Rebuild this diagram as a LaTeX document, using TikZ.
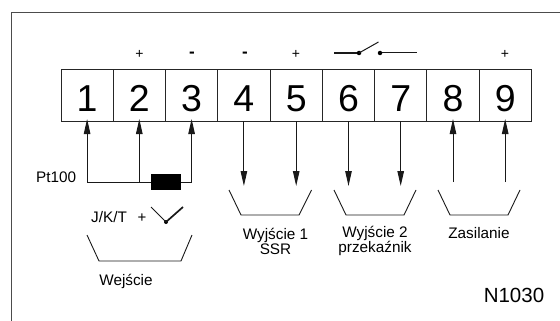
\documentclass[tikz,border=0pt]{standalone}
\usepackage{fontspec}
\setmainfont{Liberation Sans}
\usetikzlibrary{arrows.meta}
\tikzset{
  frameline/.style={draw=black!70,line width=1pt},
  term/.style={draw=black!85,line width=0.9pt,minimum width=52.2pt,minimum height=52pt,inner sep=0pt,outer sep=0pt,text height=32pt,text depth=0pt,font=\fontsize{37.5}{37.5}\selectfont},
  wire/.style={draw=black!90,line width=1pt},
  sig/.style={wire,-{Triangle[length=15pt,width=6.5pt]},shorten >=-2pt},
  tray/.style={draw=black!90,line width=0.9pt},
  lab/.style={inner sep=0pt,font=\fontsize{15.3}{15.3}\selectfont,align=center},
  sign/.style={inner sep=0pt,font=\fontsize{14}{14}\selectfont},
  pin/.style={circle,fill=black,inner sep=0pt,minimum size=4.5pt}
}
\begin{document}
\begin{tikzpicture}[x=1pt,y=-1pt]
\useasboundingbox (0,0) rectangle (560,321);
\draw[frameline] (11,321) -- (11,13) -- (560,13);
% terminals
\foreach \i/\x in {1/87.1,2/139.3,3/191.6,4/243.9,5/296.2,6/348.5,7/400.7,8/453,9/505.2}
  \node[term] (t\i) at (\x,95) {\i};
% signs
\node[sign] (p2) at (139.5,54) {+};
\node[sign] (p5) at (296,54) {+};
\node[sign] (p9) at (505,54) {+};
\node[sign,font=\bfseries\fontsize{17}{17}\selectfont] (m3) at (192,55) {-};
\node[sign,font=\bfseries\fontsize{17}{17}\selectfont] (m4) at (245,55) {-};
% switch
\node[pin] (s1) at (359,53) {};
\node[pin] (s2) at (380,53) {};
\coordinate (s0) at (334,53);
\coordinate (s3) at (416.5,53);
\coordinate (s4) at (378.5,42);
\draw[wire,line width=1.5pt] (s0) -- (s1);
\draw[wire] (s1.center) -- (s4);
\draw[wire] (s2) -- (s3);
% Pt100 wiring
\node[lab,anchor=west] (pt) at (36,177) {Pt100};
\node[fill=black,minimum width=30pt,minimum height=16pt,inner sep=0pt] (r) at (166,182) {};
\coordinate (c1) at (t1|-r);
\coordinate (c2) at (t2|-r);
\coordinate (c3) at (t3|-r);
\draw[wire] (c1) -- (r);
\draw[wire] (r) -- (c3);
\draw[sig] (c1) -- (t1.south);
\draw[sig] (c2) -- (t2.south);
\draw[sig] (c3) -- (t3.south);
% outputs
\foreach \i in {4,5,6,7}{
  \coordinate (e\i) at (t\i|-0,186);
  \draw[wire,-{Triangle[length=15pt,width=6.5pt]}] (t\i.south) -- (e\i);
}
% supply
\foreach \i in {8,9}{
  \coordinate (e\i) at (t\i|-0,182);
  \draw[sig] (e\i) -- (t\i.south);
}
% trays
\draw[tray] (87,235) -- (99,261) -- (181,261) -- (192,235);
\draw[tray] (229,190) -- (241,215) -- (299,215) -- (311.5,190);
\draw[tray] (334,190) -- (346,215) -- (404,215) -- (416,190);
\draw[tray] (438,190) -- (450,215) -- (508,215) -- (520,190);
% thermocouple
\node[lab,anchor=west] (jkt) at (91,217) {J/K/T};
\node[sign,font=\fontsize{15}{15}\selectfont] (tp) at (142,218) {+};
\node[pin,minimum size=4pt] (tc) at (166,222) {};
\coordinate (tl) at (151,207);
\coordinate (tr) at (183,207);
\draw[wire] (tl) -- (tc.center);
\draw[wire,line width=1.7pt] (tc.center) -- (tr);
% labels
\node[lab] (w) at (126,281.5) {Wejście};
\node[lab,font=\fontsize{15.3}{15}\selectfont] (w1) at (275.5,241) {Wyjście 1\\SSR};
\node[lab,font=\fontsize{15.3}{15}\selectfont] (w2) at (375,241) {Wyjście 2\\przekaźnik};
\node[lab] (z) at (479,233) {Zasilanie};
\node[lab,font=\fontsize{20.5}{20.5}\selectfont] (n) at (514,295) {N1030};
\end{tikzpicture}
\end{document}
